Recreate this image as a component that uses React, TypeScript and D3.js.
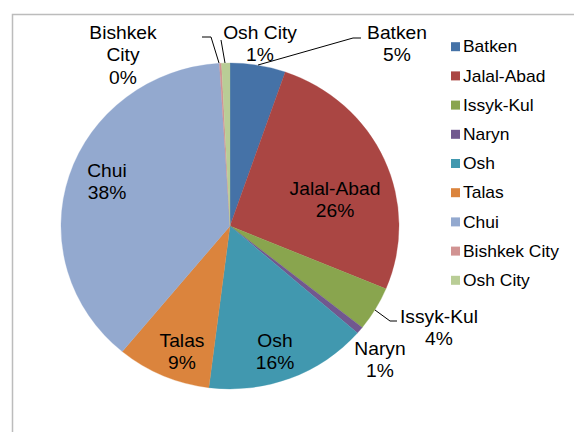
import React from 'react';
import * as d3 from 'd3';

// region shares (percent)
const regions = ['Batken', 'Jalal-Abad', 'Issyk-Kul', 'Naryn', 'Osh', 'Talas', 'Chui', 'Bishkek City', 'Osh City'];
const shares = [5.3, 26.0, 4.4, 0.7, 15.6, 9.0, 38.0, 0.2, 0.8];
const colors = ['#4572A7', '#AA4643', '#89A54E', '#71588F', '#4198AF', '#DB843D', '#93A9CF', '#D19392', '#B9CD96'];

// where each data label sits (name lines + percent), and leader lines for the outside ones
const labelPos: { x: number; y: number; lines: string[] }[] = [
  { x: 397, y: 39, lines: ['Batken'] },
  { x: 335, y: 195, lines: ['Jalal-Abad'] },
  { x: 439, y: 323, lines: ['Issyk-Kul'] },
  { x: 380, y: 355, lines: ['Naryn'] },
  { x: 275, y: 347, lines: ['Osh'] },
  { x: 182, y: 347, lines: ['Talas'] },
  { x: 107, y: 177, lines: ['Chui'] },
  { x: 123, y: 39, lines: ['Bishkek', 'City'] },
  { x: 260, y: 39, lines: ['Osh City'] },
];
const leaders: [number, number][][] = [
  [[258, 65], [353, 38], [361, 38]],
  [[375, 310], [390, 321], [397, 321]],
  [[219, 63], [211, 37], [202, 37]],
  [[225, 63], [221, 40]],
];

const W = 574, H = 432;
const cx = 230, cy = 226, ry = 163, rx = 169;
const sx = rx / ry;

export default function App() {
  const pie = d3.pie<number>().sort(null).value(d => d)(shares);
  const arc = d3.arc<d3.PieArcDatum<number>>().innerRadius(0).outerRadius(ry);
  const line = d3.line();
  const font = '"Liberation Sans", Arial, sans-serif';

  return (
    <svg width={W} height={H} style={{ position: 'fixed', left: 0, top: 0, background: '#fff' }}>
      <rect x={0} y={0} width={W} height={H} fill="#fff" />
      {/* chart frame */}
      <path d={`M12.5,${H}V14.5H${W}`} fill="none" stroke="#bcbcbc" strokeWidth={1.5} />

      <g transform={`translate(${cx},${cy}) scale(${sx},1)`}>
        {pie.map((p, i) => (
          <path key={regions[i]} d={arc(p) || ''} fill={colors[i]} stroke={colors[i]} strokeWidth={0.3} />
        ))}
      </g>

      {leaders.map((pts, i) => (
        <path key={`lead-${i}`} d={line(pts) || ''} fill="none" stroke="#000" strokeWidth={1} />
      ))}

      {labelPos.map((l, i) => {
        const all = [...l.lines, `${Math.round(shares[i])}%`];
        return (
          <g key={`lbl-${regions[i]}`} transform={`translate(${l.x},${l.y}) scale(1.04,1)`}>
            {all.map((t, j) => (
              <text key={j} x={0} y={j * 22.5} textAnchor="middle" fontFamily={font} fontSize={18.5} fill="#000">{t}</text>
            ))}
          </g>
        );
      })}

      {/* legend */}
      {regions.map((r, i) => {
        const y = 46.7 + i * 29.2;
        return (
          <g key={`leg-${r}`}>
            <rect x={451} y={y - 4.5} width={9} height={9} fill={colors[i]} />
            <text transform={`translate(463,${y + 0.5}) scale(1.09,1)`} dominantBaseline="central" fontFamily={font} fontSize={16} fill="#000">{r}</text>
          </g>
        );
      })}
    </svg>
  );
}
